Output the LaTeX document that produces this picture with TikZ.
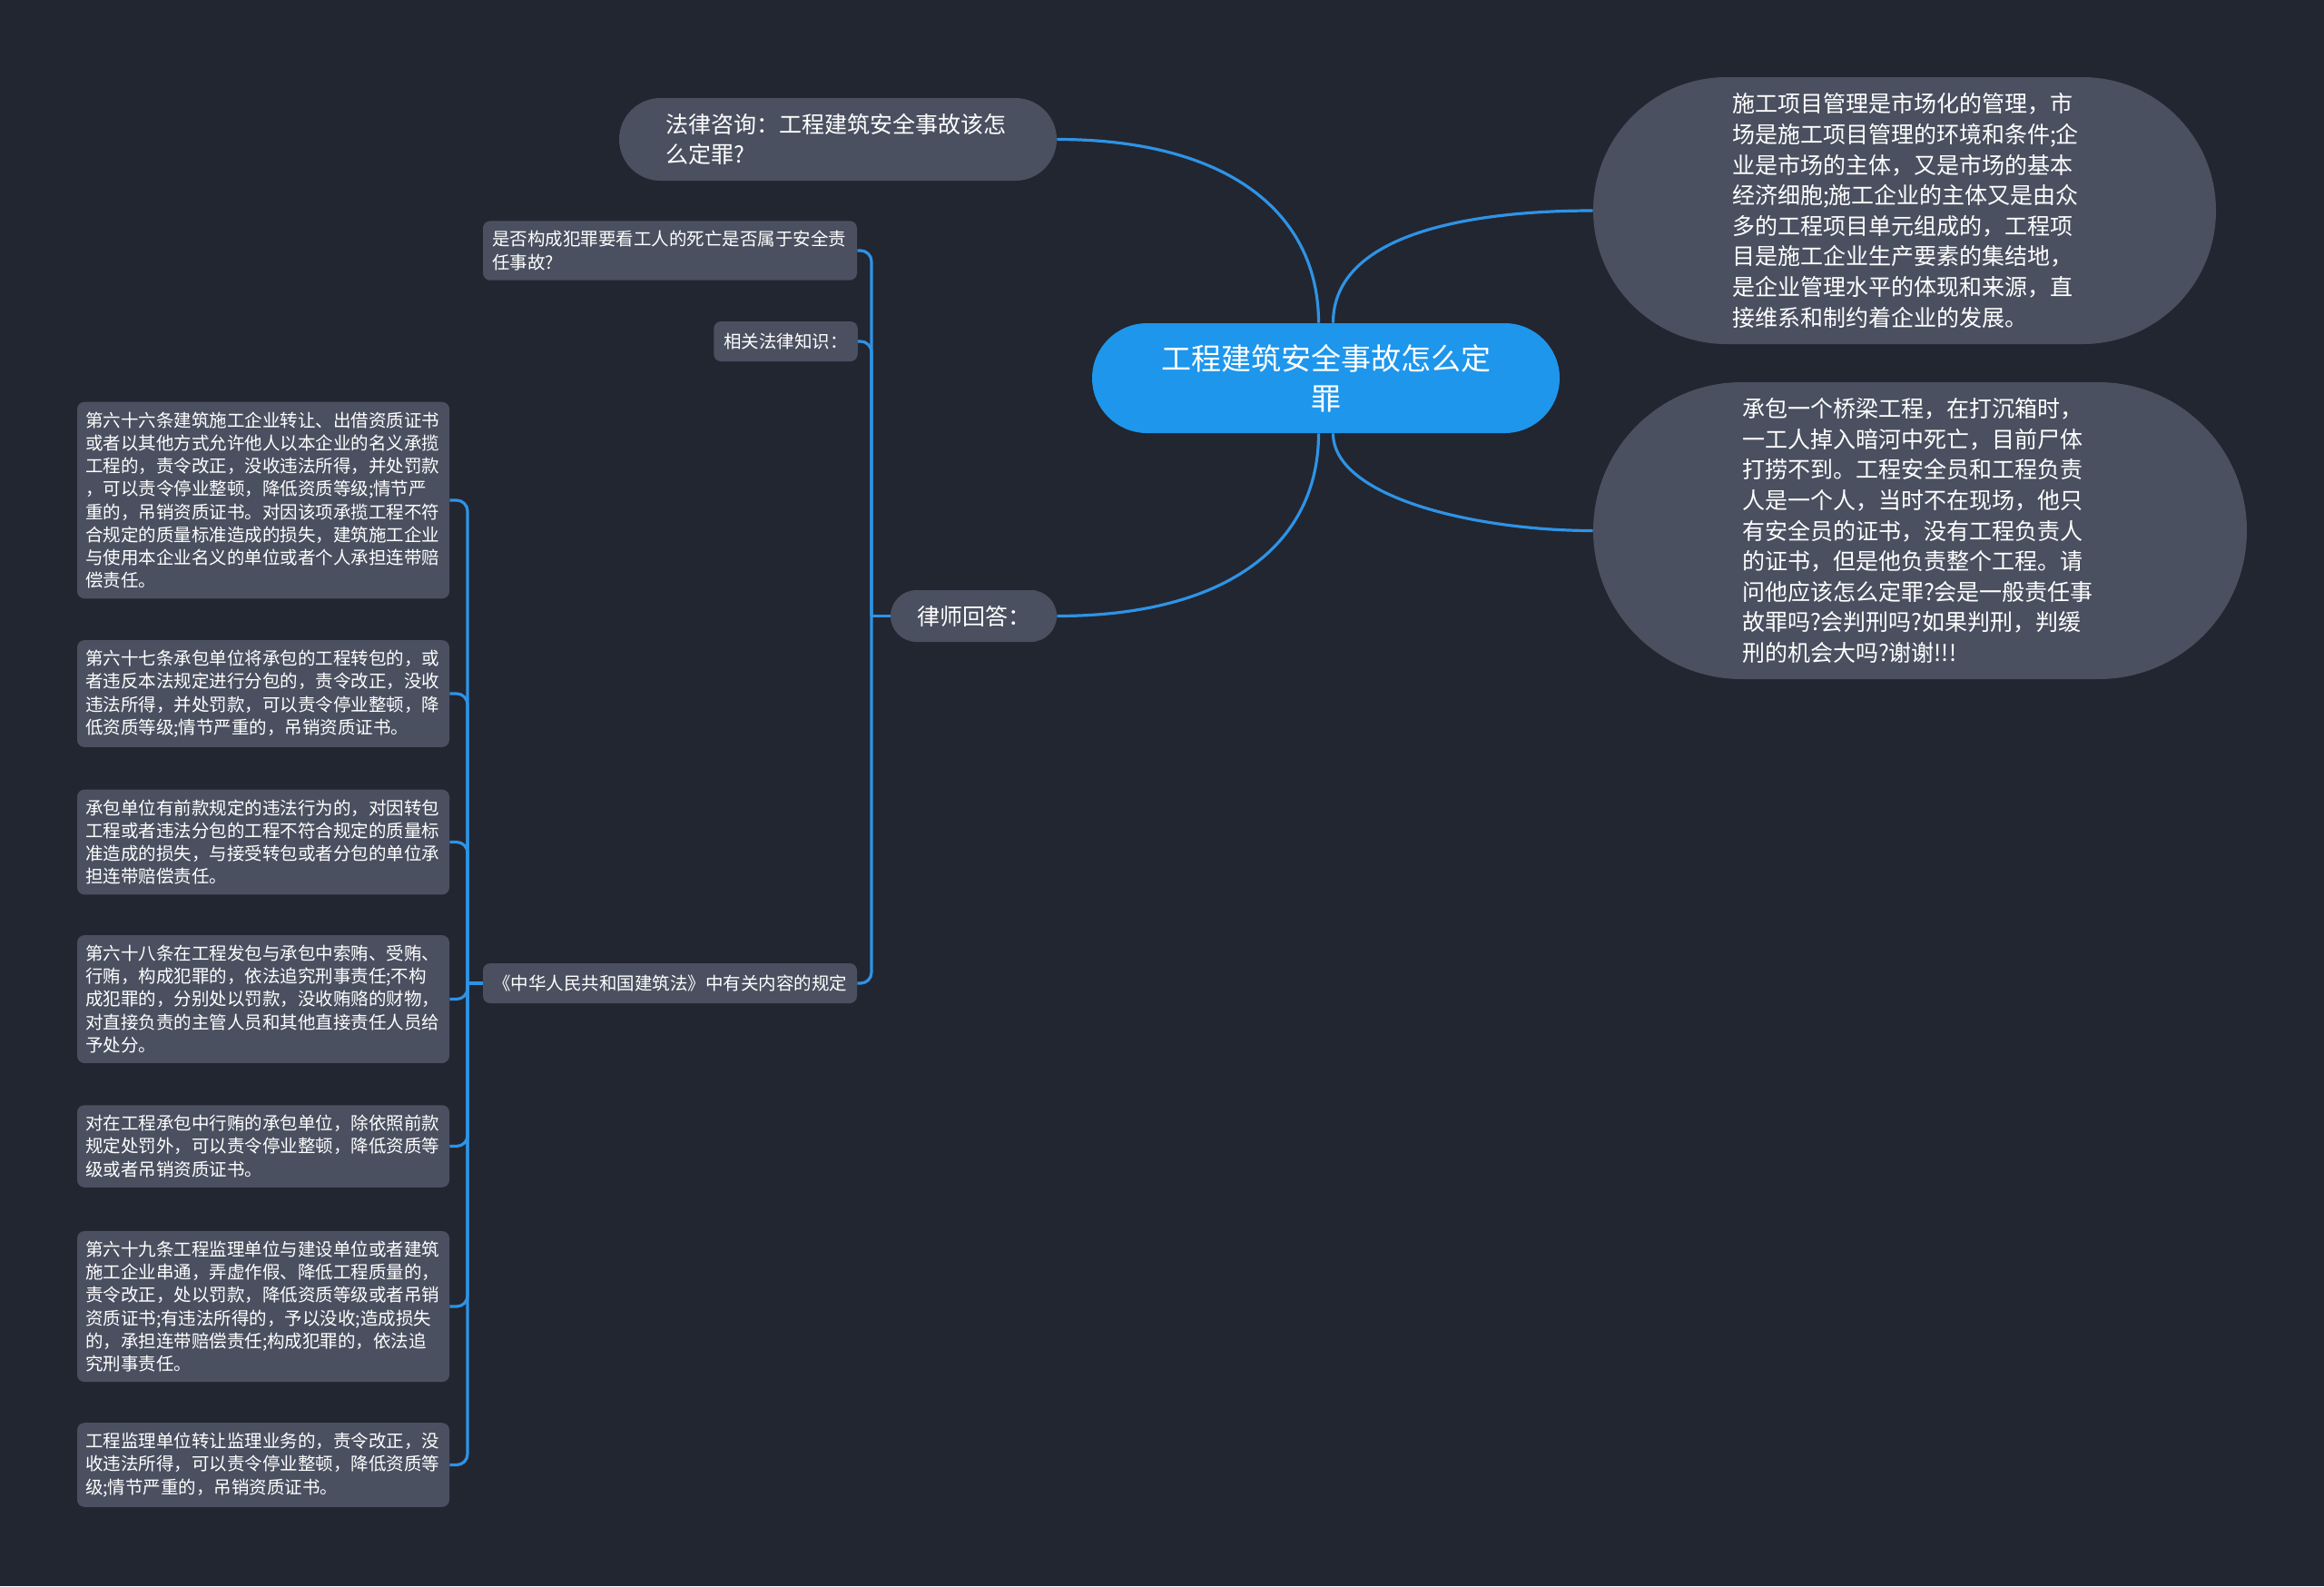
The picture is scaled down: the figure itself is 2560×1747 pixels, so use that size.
\documentclass[tikz,border=0pt]{standalone}
\usepackage{fontspec}
\setmainfont{Noto Sans CJK SC}
\usepackage{tikz}
\usetikzlibrary{shapes.misc}
\definecolor{BgDark}{HTML}{222630}
\definecolor{NodeGray}{HTML}{4A5060}
\definecolor{RootBlue}{HTML}{1E96EC}
\definecolor{LinkBlue}{HTML}{2E93E6}
\pgfdeclarelayer{back}
\pgfdeclarelayer{links}
\pgfsetlayers{back,links,main}

\begin{document}
\begin{tikzpicture}[x=0.5pt,y=-0.5pt,
  link/.style={LinkBlue,line width=1.6pt},
  pill/.style={rounded rectangle,fill=NodeGray,text=white,inner xsep=2pt,inner ysep=0pt},
  leaf/.style={rectangle,rounded corners=4pt,fill=NodeGray,text=white,text width=196pt,
    align=left,inner xsep=4.5pt,inner ysep=5.5pt,font=\fontsize{9.75pt}{12.6pt}\selectfont},
  tag/.style={rectangle,rounded corners=4pt,fill=NodeGray,text=white,inner xsep=5.5pt,
    inner ysep=0pt,minimum height=22pt,font=\fontsize{9.75pt}{12.6pt}\selectfont}]
  \useasboundingbox (0,0) rectangle (2560,1747);
  \begin{pgfonlayer}{back}
    \fill[BgDark] (0,0) rectangle (2560,1747);
  \end{pgfonlayer}

  \node[pill,fill=RootBlue,minimum width=261.5pt,minimum height=60.5pt,align=center,
    font=\fontsize{16.5pt}{22pt}\selectfont] (root) at (1460.5,416.5) {工程建筑安全事故怎么定\\罪};
  \node[pill,minimum width=245pt,minimum height=45.5pt,text width=190pt,align=left,
    font=\fontsize{12.5pt}{16.3pt}\selectfont] (consult) at (923,153.5)
    {法律咨询：工程建筑安全事故该怎\\么定罪?};
  \node[pill,minimum width=95.5pt,minimum height=28.5pt,
    font=\fontsize{12.5pt}{15pt}\selectfont] (lawyer) at (1072.5,678.5) {律师回答：};
  \node[pill,minimum width=347pt,minimum height=147pt,text width=190pt,align=left,
    font=\fontsize{12.5pt}{16.8pt}\selectfont] (sum) at (2098,232)
    {施工项目管理是市场化的管理，市\\场是施工项目管理的环境和条件;企\\业是市场的主体，又是市场的基本\\经济细胞;施工企业的主体又是由众\\多的工程项目单元组成的，工程项\\目是施工企业生产要素的集结地，\\是企业管理水平的体现和来源，直\\接维系和制约着企业的发展。};
  \node[pill,minimum width=364pt,minimum height=163.5pt,text width=196pt,align=left,
    font=\fontsize{12.5pt}{16.8pt}\selectfont] (case) at (2115,584.5)
    {承包一个桥梁工程，在打沉箱时，\\一工人掉入暗河中死亡，目前尸体\\打捞不到。工程安全员和工程负责\\人是一个人，当时不在现场，他只\\有安全员的证书，没有工程负责人\\的证书，但是他负责整个工程。请\\问他应该怎么定罪?会是一般责任事\\故罪吗?会判刑吗?如果判刑，判缓\\刑的机会大吗?谢谢!!!};

  \node[leaf,inner xsep=5pt] (ask) at (738,276) {是否构成犯罪要看工人的死亡是否属于安全责\\任事故?};
  \node[tag] (know) at (865.5,376) {相关法律知识：};
  \node[tag] (law) at (738,1083) {《中华人民共和国建筑法》中有关内容的规定};

  \node[leaf] (art1) at (290,551) {第六十六条建筑施工企业转让、出借资质证书\\或者以其他方式允许他人以本企业的名义承揽\\工程的，责令改正，没收违法所得，并处罚款\\，可以责令停业整顿，降低资质等级;情节严\\重的，吊销资质证书。对因该项承揽工程不符\\合规定的质量标准造成的损失，建筑施工企业\\与使用本企业名义的单位或者个人承担连带赔\\偿责任。};
  \node[leaf] (art2) at (290,764) {第六十七条承包单位将承包的工程转包的，或\\者违反本法规定进行分包的，责令改正，没收\\违法所得，并处罚款，可以责令停业整顿，降\\低资质等级;情节严重的，吊销资质证书。};
  \node[leaf] (art3) at (290,927.5) {承包单位有前款规定的违法行为的，对因转包\\工程或者违法分包的工程不符合规定的质量标\\准造成的损失，与接受转包或者分包的单位承\\担连带赔偿责任。};
  \node[leaf] (art4) at (290,1100.5) {第六十八条在工程发包与承包中索贿、受贿、\\行贿，构成犯罪的，依法追究刑事责任;不构\\成犯罪的，分别处以罚款，没收贿赂的财物，\\对直接负责的主管人员和其他直接责任人员给\\予处分。};
  \node[leaf] (art5) at (290,1262.5) {对在工程承包中行贿的承包单位，除依照前款\\规定处罚外，可以责令停业整顿，降低资质等\\级或者吊销资质证书。};
  \node[leaf] (art6) at (290,1439) {第六十九条工程监理单位与建设单位或者建筑\\施工企业串通，弄虚作假、降低工程质量的，\\责令改正，处以罚款，降低资质等级或者吊销\\资质证书;有违法所得的，予以没收;造成损失\\的，承担连带赔偿责任;构成犯罪的，依法追\\究刑事责任。};
  \node[leaf] (art7) at (290,1613.5) {工程监理单位转让监理业务的，责令改正，没\\收违法所得，可以责令停业整顿，降低资质等\\级;情节严重的，吊销资质证书。};

  \begin{pgfonlayer}{links}
    \draw[link] ([xshift=-4pt]root.north) .. controls +(0,-120) and +(190,0) .. (consult.east);
    \draw[link] ([xshift=4pt]root.north) .. controls +(0,-100) and +(-130,0) .. (sum.west);
    \draw[link] ([xshift=-4pt]root.south) .. controls +(0,120) and +(190,0) .. (lawyer.east);
    \draw[link] ([xshift=4pt]root.south) .. controls +(0,70) and +(-130,0) .. (case.west);
    \coordinate (ansbus) at (960,678.5);
    \draw[link] (lawyer.west) -- (ansbus);
    \foreach \n in {ask,know,law}
      \draw[link,rounded corners=6pt] (ansbus) |- (\n.east);
    \coordinate (lawbus) at (515,1083);
    \draw[link] (law.west) -- (lawbus);
    \foreach \n in {1,...,7}
      \draw[link,rounded corners=6pt] (lawbus) |- (art\n.east);
  \end{pgfonlayer}
\end{tikzpicture}
\end{document}
